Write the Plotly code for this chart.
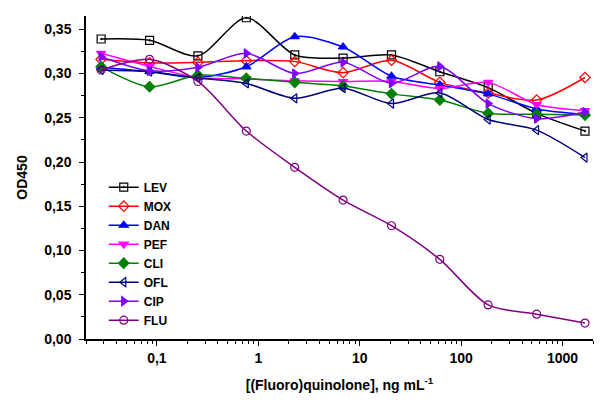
import numpy as np
import plotly.graph_objects as go

# concentrations (ng/mL), 1:3 dilution series
conc = [0.0282, 0.0847, 0.254, 0.762, 2.29, 6.86, 20.6, 61.7, 185, 556, 1667]

# OD450
lev = [0.339, 0.3375, 0.320, 0.363, 0.321, 0.3175, 0.321, 0.302, 0.284, 0.255, 0.235]
mox = [0.316, 0.312, 0.3126, 0.3145, 0.3135, 0.301, 0.315, 0.290, 0.278, 0.270, 0.2955]
dan = [0.307, 0.302, 0.2955, 0.3076, 0.3416, 0.330, 0.297, 0.287, 0.277, 0.260, 0.254]
pef = [0.3228, 0.308, 0.2955, 0.294, 0.2917, 0.291, 0.291, 0.283, 0.290, 0.265, 0.258]
cli = [0.3076, 0.285, 0.298, 0.2945, 0.290, 0.286, 0.277, 0.270, 0.255, 0.254, 0.253]
ofl = [0.304, 0.302, 0.295, 0.2888, 0.272, 0.2834, 0.266, 0.278, 0.248, 0.236, 0.205]
cip = [0.319, 0.303, 0.307, 0.3228, 0.300, 0.3126, 0.289, 0.308, 0.266, 0.249, 0.2565]
flu = [0.304, 0.316, 0.291, 0.235, 0.194, 0.157, 0.128, 0.090, 0.0385, 0.028, 0.018]

x_tickvals = [0.1, 1, 10, 100, 1000]
x_ticktext = ["0,1", "1", "10", "100", "1000"]
y_tickvals = [0, 0.05, 0.10, 0.15, 0.20, 0.25, 0.30, 0.35]
y_ticktext = ["0,00", "0,05", "0,10", "0,15", "0,20", "0,25", "0,30", "0,35"]

# name, values, color, marker symbol
series = [
    ("LEV", lev, "#000000", "square-open-dot"),
    ("MOX", mox, "#FF0000", "diamond-open"),
    ("DAN", dan, "#0000FF", "triangle-up"),
    ("PEF", pef, "#FF00FF", "triangle-down"),
    ("CLI", cli, "#008000", "diamond"),
    ("OFL", ofl, "#000080", "triangle-left-open"),
    ("CIP", cip, "#8000FF", "triangle-right"),
    ("FLU", flu, "#800080", "circle-open"),
]

fig = go.Figure()
for name, vals, color, sym in series:
    fig.add_trace(go.Scatter(
        x=conc, y=vals, name=name, mode="lines+markers",
        line=dict(color=color, width=1.5, shape="spline", smoothing=0.8),
        marker=dict(symbol=sym, size=8, color=color,
                    line=dict(color=color, width=1.2)),
    ))

FONT = "Liberation Sans, Arial, sans-serif"
tick_font = dict(family=FONT, size=14, color="black")
title_font = dict(family=FONT, size=14, color="black", weight="bold")

fig.update_xaxes(
    type="log",
    range=[np.log10(0.02), np.log10(2000)],
    tickvals=x_tickvals, ticktext=[f"<b>{t}</b>" for t in x_ticktext],
    ticks="outside", ticklen=5, tickwidth=1.2, tickcolor="black",
    minor=dict(ticks="outside", ticklen=3, tickwidth=1, tickcolor="black", dtick="D1"),
    showline=True, linecolor="black", linewidth=1.5,
    showgrid=False, zeroline=False, automargin=False,
    tickfont=tick_font,
    title=dict(text="[(Fluoro)quinolone], ng mL<sup>-1</sup>", font=title_font, standoff=16),
)
fig.update_yaxes(
    range=[0, 0.365],
    tickvals=y_tickvals, ticktext=[f"<b>{t}</b>" for t in y_ticktext],
    ticks="outside", ticklen=5, tickwidth=1.2, tickcolor="black",
    minor=dict(ticks="outside", ticklen=3, tickwidth=1, tickcolor="black", dtick=0.025),
    showline=True, linecolor="black", linewidth=1.5,
    showgrid=False, zeroline=False, automargin=False,
    tickfont=tick_font, ticklabelstandoff=5,
    title=dict(text="OD450", font=title_font, standoff=13),
)

# page has an 8px body margin, so the figure is sized to fit inside it
fig.update_layout(
    width=595, height=399,
    margin=dict(l=78, r=10, t=8, b=68),
    paper_bgcolor="white", plot_bgcolor="white",
    font=dict(family=FONT, color="black"),
    legend=dict(
        x=0.035, y=0.515, xanchor="left", yanchor="top",
        bgcolor="rgba(0,0,0,0)",
        font=dict(family=FONT, size=12, color="black", weight="bold"),
        tracegroupgap=0, itemwidth=30,
    ),
)

fig.write_html("out.html")
